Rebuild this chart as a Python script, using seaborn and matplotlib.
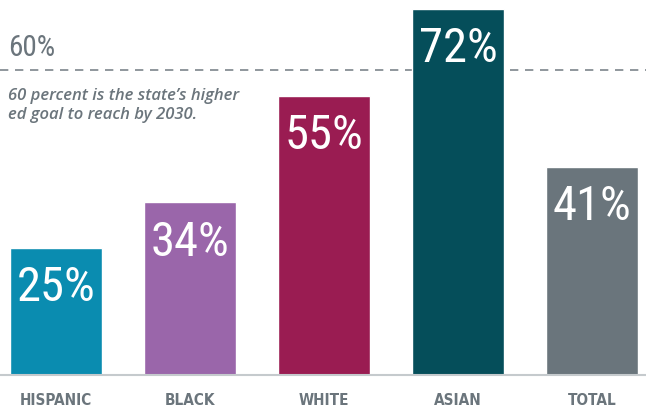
import matplotlib
matplotlib.use("Agg")
import matplotlib.pyplot as plt
import seaborn as sns
import pandas as pd

categories = ["HISPANIC", "BLACK", "WHITE", "ASIAN", "TOTAL"]
values = [25, 34, 55, 72, 41]
colors = ["#0a8cb0", "#9a66aa", "#9a1c52", "#054e5a", "#6a757c"]
goal = 60
goal_label = "60%"
note = "60 percent is the state’s higher\ned goal to reach by 2030."

sns.set_theme(style="white")
plt.rcParams['font.family'] = ['Roboto Condensed', 'DejaVu Sans']
plt.rcParams['font.stretch'] = 'condensed'

df = pd.DataFrame({"group": categories, "value": values})
fig = plt.figure(figsize=(6.46, 4.09), dpi=100)
ax = fig.add_axes([0, 34/409, 1, 375/409])
sns.barplot(data=df, x="group", y="value", hue="group", palette=colors,
            width=0.69, legend=False, ax=ax, saturation=1)
ax.set_xlim(-0.418, 4.403)
ax.set_ylim(0, 73.8)
gray = "#6b757c"
ax.axhline(goal, color="#7d858b", lw=1.2, ls=(0, (5, 4)), zorder=0)
for i, v in enumerate(values):
    ax.annotate(f"{v}%", (i, v), xytext=(0, -29), textcoords="offset points",
                ha="center", va="center", color="white", fontsize=35,
                fontstretch="condensed")
ax.text(0.012, goal + 1.6, goal_label, transform=ax.get_yaxis_transform(),
        color=gray, fontsize=21, ha="left", va="bottom", fontstretch="condensed")
ax.text(0.012, goal - 3.6, note, transform=ax.get_yaxis_transform(),
        color=gray, fontsize=12, style="italic", weight="semibold",
        ha="left", va="top",
        family=['Open Sans', 'DejaVu Sans'], linespacing=1.2)
for s in ["top", "left", "right"]:
    ax.spines[s].set_visible(False)
ax.spines["bottom"].set_color("#c5cacd")
ax.spines["bottom"].set_linewidth(1.5)
ax.set_yticks([])
ax.set_xlabel("")
ax.set_ylabel("")
ax.set_xticks(range(len(categories)))
ax.set_xticklabels(categories, fontweight="bold", fontsize=11,
                   color=gray, fontstretch="condensed",
                   family=['DejaVu Sans'])
ax.tick_params(axis="x", length=0, pad=13)
fig.savefig("out.png", dpi=100)
